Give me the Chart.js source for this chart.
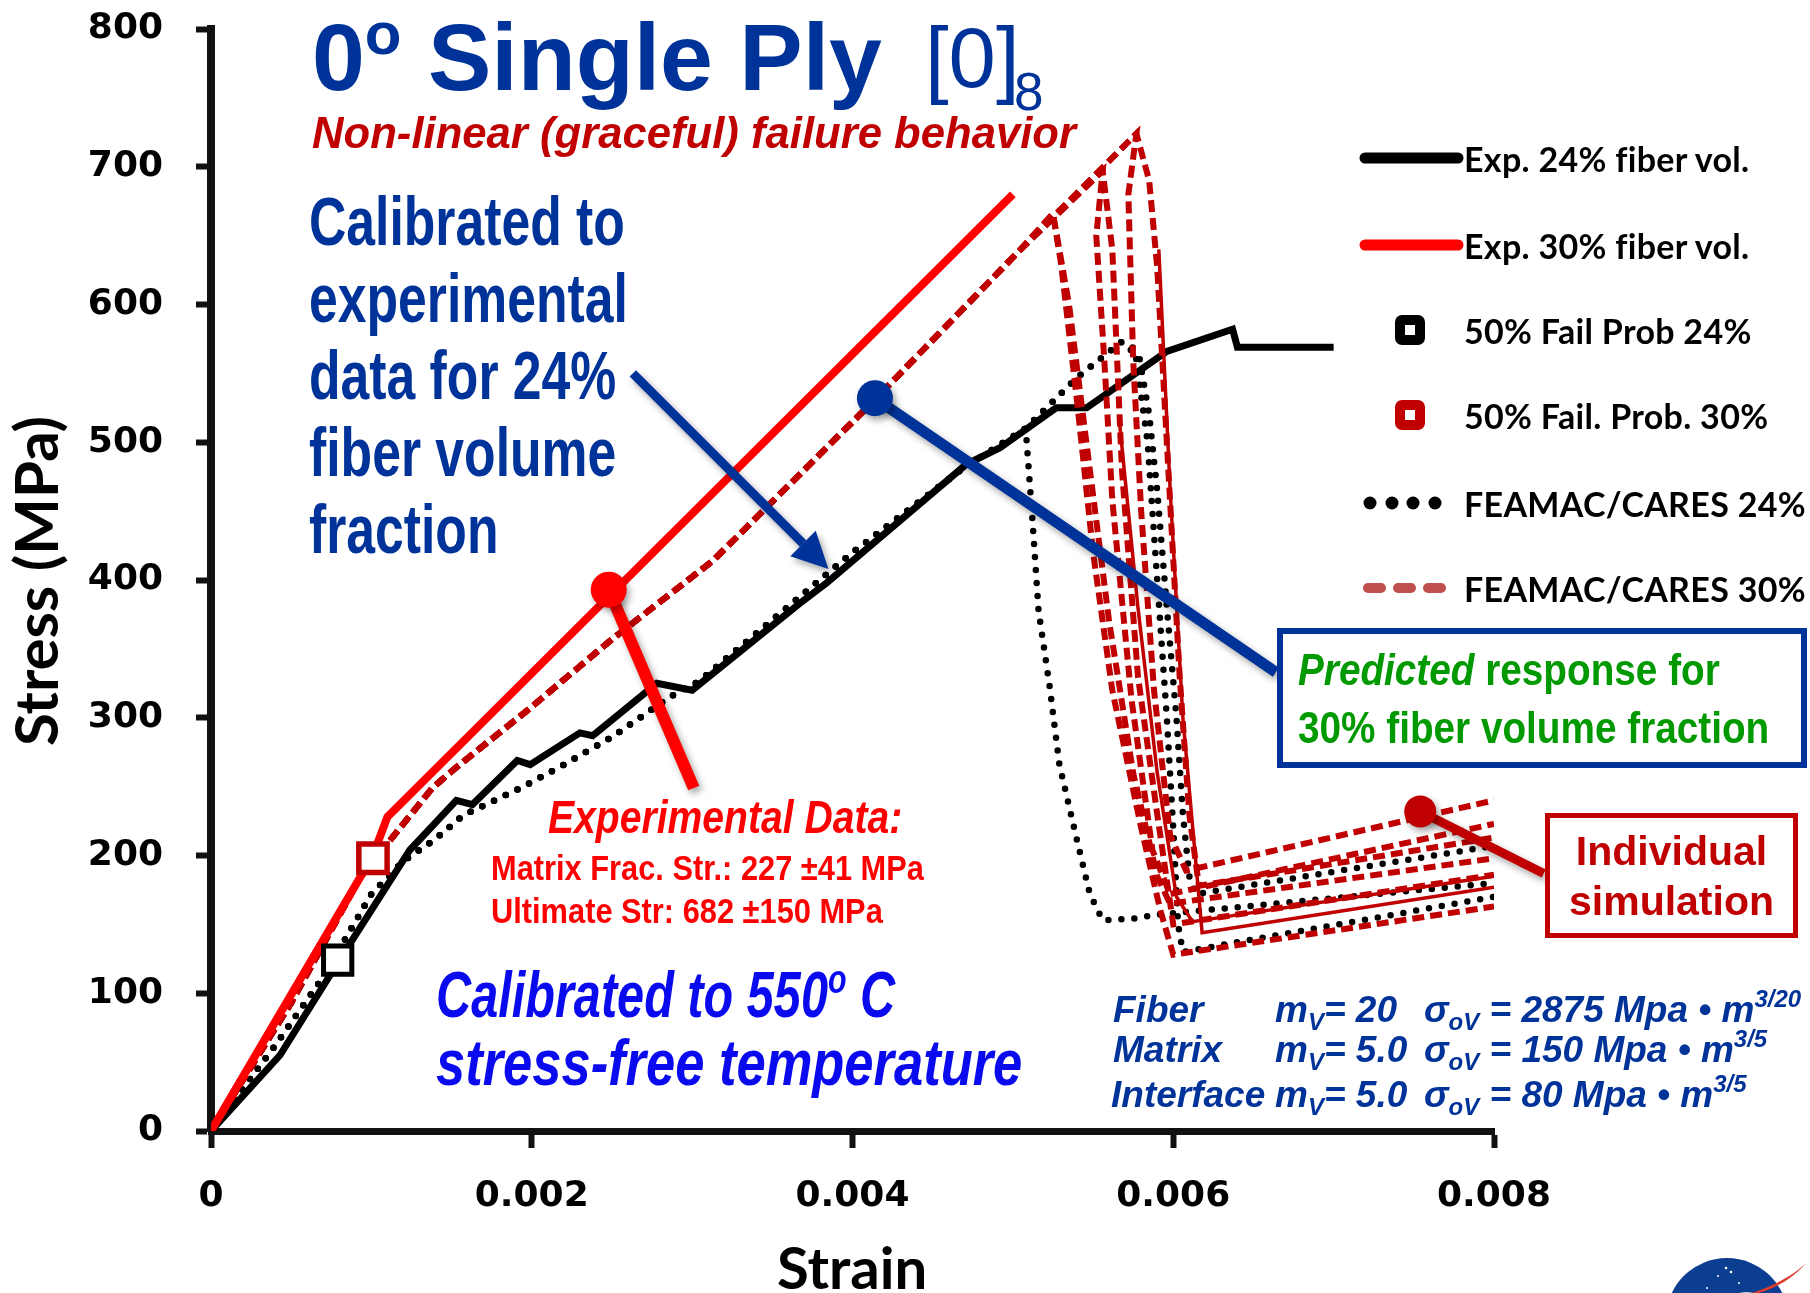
<!DOCTYPE html>
<html lang="en">
<head>
<meta charset="utf-8">
<title>0o Single Ply [0]8 - stress vs strain</title>
<script src="https://cdn.jsdelivr.net/npm/chart.js@4.4.1/dist/chart.umd.min.js"></script>
<style>
  html, body { margin: 0; padding: 0; background: #fff; }
  #page { position: relative; width: 1810px; height: 1293px; overflow: hidden; background: #fff; }
  #plot { position: absolute; left: 0; top: 0; }
  #marks { position: absolute; left: 0; top: 0; pointer-events: none; }
  .t { position: absolute; white-space: nowrap; line-height: 1; font-family: 'Liberation Sans', Arial, sans-serif;
       font-weight: bold; transform-origin: 0 0; }
  .it { font-style: italic; }
  .cal { font-family: Lato, 'Noto Sans', sans-serif; color: #000; }
  .legend { position: absolute; left: 1464px; font: bold 34px Lato, 'Noto Sans', sans-serif; color: #000;
            white-space: nowrap; line-height: 1; letter-spacing: 0.3px; }
  .box { position: absolute; box-sizing: border-box; background: #fff; }
  .par { font-size: 37px; color: #003399; }
  .lo { font-size: 24px; position: relative; top: 8px; }
  .hi { font-size: 24px; position: relative; top: -15px; }
</style>
</head>
<body>
<div id="page">
  <canvas id="plot" width="1810" height="1293"></canvas>

  <svg id="marks" width="1810" height="1293">
    <!-- legend swatches -->
    <line x1="1365" y1="158" x2="1458" y2="158" stroke="#000" stroke-width="11" stroke-linecap="round"/>
    <line x1="1365" y1="245" x2="1458" y2="245" stroke="#FF0000" stroke-width="11" stroke-linecap="round"/>
    <rect x="1400" y="320" width="20" height="20" rx="2" fill="#fff" stroke="#000" stroke-width="10"/>
    <rect x="1400" y="405" width="20" height="20" rx="2" fill="#fff" stroke="#C00000" stroke-width="10"/>
    <g fill="#000">
      <circle cx="1370" cy="503" r="6.5"/><circle cx="1392" cy="503" r="6.5"/>
      <circle cx="1413" cy="503" r="6.5"/><circle cx="1435" cy="503" r="6.5"/>
    </g>
    <line x1="1368" y1="588" x2="1444" y2="588" stroke="#C0504D" stroke-width="10" stroke-linecap="round" stroke-dasharray="13 17"/>
    <!-- agency logo, bottom corner -->
    <circle cx="1727" cy="1319" r="61" fill="#0B3D91"/>
    <ellipse cx="1722" cy="1318" rx="42" ry="17" fill="none" stroke="#fff" stroke-width="2" transform="rotate(-28 1722 1318)"/>
    <g fill="#fff"><circle cx="1726" cy="1268" r="1.3"/><circle cx="1731" cy="1272" r="1.3"/><circle cx="1718" cy="1276" r="1"/><circle cx="1739" cy="1283" r="1"/><circle cx="1707" cy="1288" r="1"/></g>
    <path d="M1806 1263 C1792 1280 1770 1292 1745 1296 L1752 1293 C1776 1285 1795 1274 1806 1263 Z" fill="#E03A2A"/>
  </svg>

  <!-- title -->
  <div class="t" style="left:312px;top:10px;font-size:95px;color:#003399">0<span style="font-size:60px;position:relative;top:-36px">o</span> Single Ply</div>
  <div class="t" style="left:925px;top:15px;font-size:85px;font-weight:normal;color:#003399">[0]</div>
  <div class="t" style="left:1014px;top:65px;font-size:53px;font-weight:normal;color:#003399">8</div>
  <div class="t it" style="left:312px;top:110px;font-size:45px;color:#C00000;transform:scaleX(0.97)">Non-linear (graceful) failure behavior</div>

  <div class="t" style="left:309px;top:183px;font-size:68px;line-height:77px;color:#003399;transform:scaleX(0.76)">Calibrated to<br>experimental<br>data for 24%<br>fiber volume<br>fraction</div>

  <div class="t it" style="left:548px;top:794px;font-size:46px;color:#FF0000;transform:scaleX(0.85)">Experimental Data:</div>
  <div class="t" style="left:491px;top:850px;font-size:35px;color:#FF0000;transform:scaleX(0.88)">Matrix Frac. Str.: 227 ±41 MPa</div>
  <div class="t" style="left:491px;top:893px;font-size:35px;color:#FF0000;transform:scaleX(0.88)">Ultimate Str: 682 ±150 MPa</div>

  <div class="t it" style="left:436px;top:963px;font-size:64px;color:#0A0AEE;transform:scaleX(0.76)">Calibrated to 550<span style="font-size:40px;position:relative;top:-24px">o</span> C</div>
  <div class="t it" style="left:436px;top:1031px;font-size:64px;color:#0A0AEE;transform:scaleX(0.82)">stress-free temperature</div>

  <!-- Weibull parameters -->
  <div class="t it par" style="left:1113px;top:991px">Fiber</div>
  <div class="t it par" style="left:1275px;top:991px">m<span class="lo">V</span>= 20</div>
  <div class="t it par" style="left:1424px;top:991px">σ<span class="lo">oV</span> = 2875 Mpa • m<span class="hi">3/20</span></div>
  <div class="t it par" style="left:1113px;top:1031px">Matrix</div>
  <div class="t it par" style="left:1275px;top:1031px">m<span class="lo">V</span>= 5.0</div>
  <div class="t it par" style="left:1424px;top:1031px">σ<span class="lo">oV</span> = 150 Mpa • m<span class="hi">3/5</span></div>
  <div class="t it par" style="left:1111px;top:1076px">Interface</div>
  <div class="t it par" style="left:1275px;top:1076px">m<span class="lo">V</span>= 5.0</div>
  <div class="t it par" style="left:1424px;top:1076px">σ<span class="lo">oV</span> = 80 Mpa • m<span class="hi">3/5</span></div>

  <!-- legend -->
  <div class="legend" style="top:142px">Exp. 24% fiber vol.</div>
  <div class="legend" style="top:229px">Exp. 30% fiber vol.</div>
  <div class="legend" style="top:314px">50% Fail Prob 24%</div>
  <div class="legend" style="top:399px">50% Fail. Prob. 30%</div>
  <div class="legend" style="top:487px">FEAMAC/CARES 24%</div>
  <div class="legend" style="top:572px">FEAMAC/CARES 30%</div>

  <!-- callout boxes -->
  <div class="box" style="left:1277px;top:628px;width:530px;height:140px;border:6px solid #003399"></div>
  <div class="t" style="left:1298px;top:641px;font-size:44px;line-height:58px;color:#009900;transform:scaleX(0.88)"><i>Predicted</i> response for<br>30% fiber volume fraction</div>
  <div class="box" style="left:1545px;top:813px;width:253px;height:125px;border:5px solid #C00000"></div>
  <div class="t" style="left:1545px;top:826px;width:253px;text-align:center;font-size:41px;line-height:50px;color:#C00000">Individual<br>simulation</div>

  <!-- axis titles -->
  <div class="t cal" style="left:35px;top:581px;font-size:60px;transform-origin:50% 50%;transform:translate(-50%,-50%) rotate(-90deg)">Stress (MPa)</div>
  <div class="t cal" style="left:852px;top:1238px;font-size:58px;transform:translateX(-50%)">Strain</div>
</div>

<script>
'use strict';

const strainTicks = [0, 0.002, 0.004, 0.006, 0.008];
const strainTickLabels = ['0', '0.002', '0.004', '0.006', '0.008'];
const stressTicks = [0, 100, 200, 300, 400, 500, 600, 700, 800];

// test curves, [strain, stress MPa]
const exp24 = [
  [0, 0], [0.00043, 55], [0.00079, 122], [0.00124, 204], [0.00153, 240], [0.00163, 237],
  [0.00191, 269], [0.00199, 266], [0.0023, 289], [0.00238, 287], [0.00278, 325], [0.003, 320],
  [0.00367, 383], [0.00384, 398], [0.00471, 484], [0.00492, 496], [0.00527, 525], [0.00546, 525],
  [0.00596, 566], [0.00637, 582], [0.0064, 569], [0.0070, 569],
];
const exp30 = [[0, 0], [0.00101, 200], [0.0011, 228], [0.005, 680]];

const failProb24 = [[0.00079, 124]];
const failProb30 = [[0.00101, 198]];

// FEAMAC/CARES 24% runs share the same loading branch
const feamac24Loading = [
  [0, 0], [0.0004, 62], [0.0007, 112], [0.001, 172], [0.0012, 196], [0.0014, 212], [0.00157, 229],
  [0.00193, 249], [0.00217, 264], [0.0025, 286], [0.00286, 315], [0.00305, 327], [0.004, 420],
  [0.0047, 482], [0.00508, 510],
];
const feamac24RunA = [
  [0.00512, 447], [0.00516, 378], [0.00523, 322], [0.00529, 266], [0.0054, 211], [0.00548, 172],
  [0.00556, 153], [0.00574, 154], [0.0059, 157], [0.008, 180],
];
const feamac24RunB = [
  [0.0054, 547], [0.00568, 573], [0.00579, 561], [0.00585, 520], [0.0059, 465], [0.00596, 380],
  [0.00602, 300], [0.00606, 230], [0.0061, 185], [0.00614, 172], [0.008, 207],
];
const feamac24RunC = [
  [0.0054, 547], [0.00568, 573], [0.00576, 568], [0.00584, 500], [0.0059, 400], [0.00596, 300],
  [0.006, 220], [0.00603, 150], [0.00606, 130], [0.008, 170],
];

// FEAMAC/CARES 30% runs, loading branch then each run's failure path
const feamac30Loading = [
  [0, 0], [0.0005, 93], [0.00093, 184], [0.00113, 213], [0.00138, 249], [0.00153, 264], [0.00199, 307],
  [0.00249, 356], [0.00282, 386], [0.00313, 414], [0.00414, 531], [0.00504, 639],
];
const feamac30RunA = [[0.00525, 666], [0.0053, 630], [0.0054, 530], [0.0055, 420], [0.00562, 320], [0.0058, 220], [0.00592, 160], [0.006, 128], [0.008, 163]];
const feamac30RunB = [[0.00525, 666], [0.00535, 600], [0.00548, 480], [0.0056, 370], [0.00575, 260], [0.0059, 185], [0.00598, 165], [0.008, 198]];
const feamac30RunC = [[0.00556, 697], [0.00552, 650], [0.00557, 560], [0.00562, 458], [0.00574, 313], [0.00587, 204], [0.00598, 172], [0.008, 223]];
const feamac30RunD = [[0.00556, 697], [0.00562, 640], [0.00568, 480], [0.00578, 330], [0.0059, 230], [0.006, 150], [0.008, 186]];
const feamac30RunE = [[0.00577, 724], [0.00572, 680], [0.00575, 560], [0.0058, 450], [0.00588, 320], [0.00598, 215], [0.00608, 189], [0.008, 240]];
const feamac30RunF = [[0.00577, 724], [0.00585, 690], [0.0059, 627], [0.00596, 500], [0.00604, 330], [0.0061, 230], [0.00616, 178], [0.008, 213]];
// two runs plotted solid after failure starts
const feamac30SolidA = [[0.00591, 640], [0.00598, 467], [0.00606, 300], [0.00618, 144], [0.008, 177]];
const feamac30SolidB = [[0.00566, 520], [0.00578, 380], [0.0059, 260], [0.00602, 170], [0.00612, 152], [0.008, 185]];

// callout anchors in strain / stress units
const CALLOUTS = {
  arrowFrom: [0.00263, 550], arrowTip: [0.00385, 408],
  bluePin: [0.00414, 532], blueEnd: [0.00664, 333],
  redPin: [0.00248, 393], redEnd: [0.00301, 249],
  simPin: [0.00754, 232], simEnd: [0.00831, 187],
};

const AXIS_COLOR = '#111';
const TICK_FONT = { family: "'DejaVu Sans', sans-serif", weight: 'bold', size: 36 };

const toXY = pts => pts.map(([x, y]) => ({ x, y }));

function curve(label, pts, style) {
  return Object.assign({
    label, data: toXY(pts), pointRadius: 0, fill: false, tension: 0, borderWidth: 4,
  }, style);
}

// fixed scale boxes: tick-label overhang must not push the plot area around
function fixBox(size) {
  return s => {
    if (s.isHorizontal()) s.height = size; else s.width = size;
    s.paddingTop = 0; s.paddingBottom = 0; s.paddingLeft = 0; s.paddingRight = 0;
  };
}

const dotted24 = { borderColor: '#000', borderWidth: 6.5, borderDash: [0, 13], borderCapStyle: 'round', order: 5 };
const dashed30 = { borderColor: '#C00000', borderWidth: 6, borderDash: [12, 6], order: 3 };
const solid30 = { borderColor: '#C00000', borderWidth: 3.5, order: 3 };

const datasets = [
  curve('FEAMAC/CARES 24% A', feamac24Loading.concat(feamac24RunA), dotted24),
  curve('FEAMAC/CARES 24% B', feamac24Loading.concat(feamac24RunB), dotted24),
  curve('FEAMAC/CARES 24% C', feamac24Loading.concat(feamac24RunC), dotted24),
  curve('Exp. 24% fiber vol.', exp24, { borderColor: '#000', borderWidth: 7, borderJoinStyle: 'miter', order: 4 }),
  curve('FEAMAC/CARES 30% A', feamac30Loading.concat(feamac30RunA), dashed30),
  curve('FEAMAC/CARES 30% B', feamac30Loading.concat(feamac30RunB), dashed30),
  curve('FEAMAC/CARES 30% C', feamac30Loading.concat(feamac30RunC), dashed30),
  curve('FEAMAC/CARES 30% D', feamac30Loading.concat(feamac30RunD), dashed30),
  curve('FEAMAC/CARES 30% E', feamac30Loading.concat(feamac30RunE), dashed30),
  curve('FEAMAC/CARES 30% F', feamac30Loading.concat(feamac30RunF), dashed30),
  curve('FEAMAC/CARES 30% G', feamac30SolidA, solid30),
  curve('FEAMAC/CARES 30% H', feamac30SolidB, solid30),
  curve('Exp. 30% fiber vol.', exp30, { borderColor: '#FF0000', borderWidth: 8, order: 2 }),
  {
    label: '50% Fail Prob 24%', data: toXY(failProb24), showLine: false, order: 1,
    pointStyle: 'rect', pointRadius: 20, borderWidth: 5, borderColor: '#000', backgroundColor: '#fff',
  },
  {
    label: '50% Fail. Prob. 30%', data: toXY(failProb30), showLine: false, order: 1,
    pointStyle: 'rect', pointRadius: 20, borderWidth: 5.5, borderColor: '#C00000', backgroundColor: '#fff',
  },
];

function drawPin(ctx, dot, end, color, width, radius) {
  ctx.strokeStyle = color;
  ctx.lineWidth = width;
  ctx.beginPath();
  ctx.moveTo(dot[0], dot[1]);
  ctx.lineTo(end[0], end[1]);
  ctx.stroke();
  ctx.fillStyle = color;
  ctx.beginPath();
  ctx.arc(dot[0], dot[1], radius, 0, Math.PI * 2);
  ctx.fill();
}

function drawArrow(ctx, from, tip, color, width, headLen, headWidth) {
  const ang = Math.atan2(tip[1] - from[1], tip[0] - from[0]);
  const bx = tip[0] - headLen * Math.cos(ang);
  const by = tip[1] - headLen * Math.sin(ang);
  const hx = headWidth / 2 * Math.sin(ang);
  const hy = headWidth / 2 * Math.cos(ang);
  ctx.strokeStyle = color;
  ctx.lineWidth = width;
  ctx.beginPath();
  ctx.moveTo(from[0], from[1]);
  ctx.lineTo(bx, by);
  ctx.stroke();
  ctx.fillStyle = color;
  ctx.beginPath();
  ctx.moveTo(tip[0], tip[1]);
  ctx.lineTo(bx + hx, by - hy);
  ctx.lineTo(bx - hx, by + hy);
  ctx.closePath();
  ctx.fill();
}

const calloutPlugin = {
  id: 'callouts',
  afterDatasetsDraw(chart) {
    const { ctx } = chart;
    const sx = chart.scales.x, sy = chart.scales.y;
    const px = p => [sx.getPixelForValue(p[0]), sy.getPixelForValue(p[1])];
    const c = CALLOUTS;
    ctx.save();
    ctx.shadowColor = 'rgba(0,0,0,0.35)';
    ctx.shadowBlur = 7;
    ctx.shadowOffsetX = 3;
    ctx.shadowOffsetY = 4;
    ctx.lineCap = 'butt';
    drawArrow(ctx, px(c.arrowFrom), px(c.arrowTip), '#003399', 9, 36, 36);
    drawPin(ctx, px(c.bluePin), px(c.blueEnd), '#003399', 11, 18);
    drawPin(ctx, px(c.redPin), px(c.redEnd), '#FF0000', 12, 18);
    drawPin(ctx, px(c.simPin), px(c.simEnd), '#C00000', 9, 16);
    ctx.restore();
  },
};

new Chart(document.getElementById('plot'), {
  type: 'line',
  data: { datasets },
  options: {
    responsive: false,
    animation: false,
    devicePixelRatio: 1,
    events: [],
    layout: { padding: { left: 0, right: 316, top: 29, bottom: 0 } },
    plugins: { legend: { display: false }, tooltip: { enabled: false } },
    scales: {
      x: {
        type: 'linear', min: 0, max: 0.008,
        afterFit: fixBox(162),
        afterBuildTicks: s => { s.ticks = strainTicks.map(v => ({ value: v })); },
        ticks: {
          callback: (v, i) => strainTickLabels[i], font: TICK_FONT, color: '#000',
          padding: 27, maxRotation: 0, autoSkip: false,
        },
        grid: { drawOnChartArea: false, drawTicks: true, tickLength: 17, tickWidth: 6, tickColor: AXIS_COLOR },
        border: { display: true, color: AXIS_COLOR, width: 7 },
      },
      y: {
        type: 'linear', min: 0, max: 800,
        afterFit: fixBox(211),
        afterBuildTicks: s => { s.ticks = stressTicks.map(v => ({ value: v })); },
        ticks: { callback: v => String(v), font: TICK_FONT, color: '#000', padding: 33, autoSkip: false },
        grid: { drawOnChartArea: false, drawTicks: true, tickLength: 15, tickWidth: 6, tickColor: AXIS_COLOR },
        border: { display: true, color: AXIS_COLOR, width: 8 },
      },
    },
  },
  plugins: [calloutPlugin],
});
</script>
</body>
</html>
